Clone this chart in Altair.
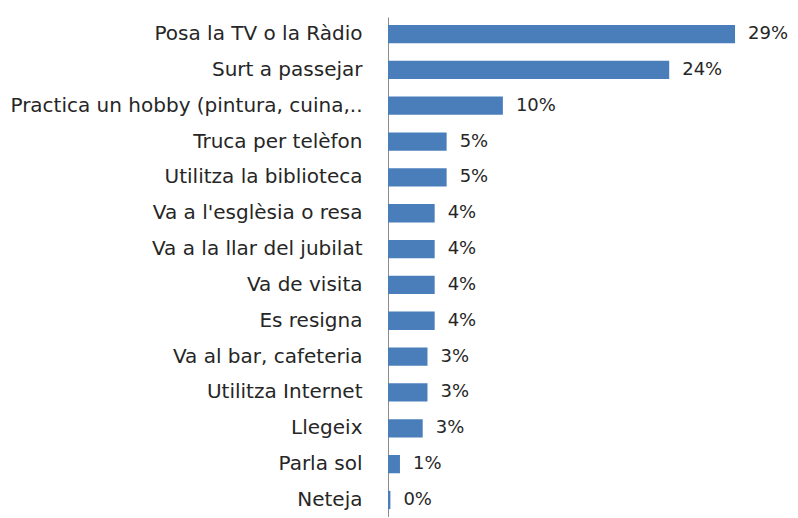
import altair as alt
import pandas as pd

categories = [
    "Posa la TV o la Ràdio",
    "Surt a passejar",
    "Practica un hobby (pintura, cuina,..",
    "Truca per telèfon",
    "Utilitza la biblioteca",
    "Va a l'esglèsia o resa",
    "Va a la llar del jubilat",
    "Va de visita",
    "Es resigna",
    "Va al bar, cafeteria",
    "Utilitza Internet",
    "Llegeix",
    "Parla sol",
    "Neteja",
]
values = [29.0, 23.5, 9.6, 4.9, 4.9, 3.9, 3.9, 3.9, 3.9, 3.3, 3.3, 2.9, 1.0, 0.2]
labels = ["29%", "24%", "10%", "5%", "5%", "4%", "4%", "4%", "4%", "3%", "3%", "3%", "1%", "0%"]

df = pd.DataFrame({"cat": categories, "val": values, "lab": labels})

FONT = "DejaVu Sans"

y = alt.Y(
    "cat:N",
    sort=categories,
    title=None,
    scale=alt.Scale(paddingInner=0.49, paddingOuter=0.22),
    axis=alt.Axis(
        ticks=False,
        domain=True,
        domainColor="#8c8c8c",
        domainWidth=1,
        labelPadding=26,
        labelFont=FONT,
        labelFontSize=20,
        labelColor="#262626",
        labelLimit=500,
    ),
)
x = alt.X("val:Q", title=None, axis=None, scale=alt.Scale(domain=[0, 30], nice=False))

bars = alt.Chart(df).mark_bar(color="#4A7EBB").encode(x=x, y=y)
text = alt.Chart(df).mark_text(
    align="left", baseline="middle", dx=13, font=FONT, fontSize=18, color="#262626"
).encode(x=x, y=y, text="lab:N")

chart = (
    alt.layer(bars, text)
    .properties(
        width=359,
        height=500,
        autosize=alt.AutoSizeParams(type="none"),
        padding={"left": 380, "top": 9, "right": 42, "bottom": 0},
        background="white",
    )
    .configure_view(stroke=None)
)

chart.save("out.html", embed_options={"renderer": "svg", "actions": False})
